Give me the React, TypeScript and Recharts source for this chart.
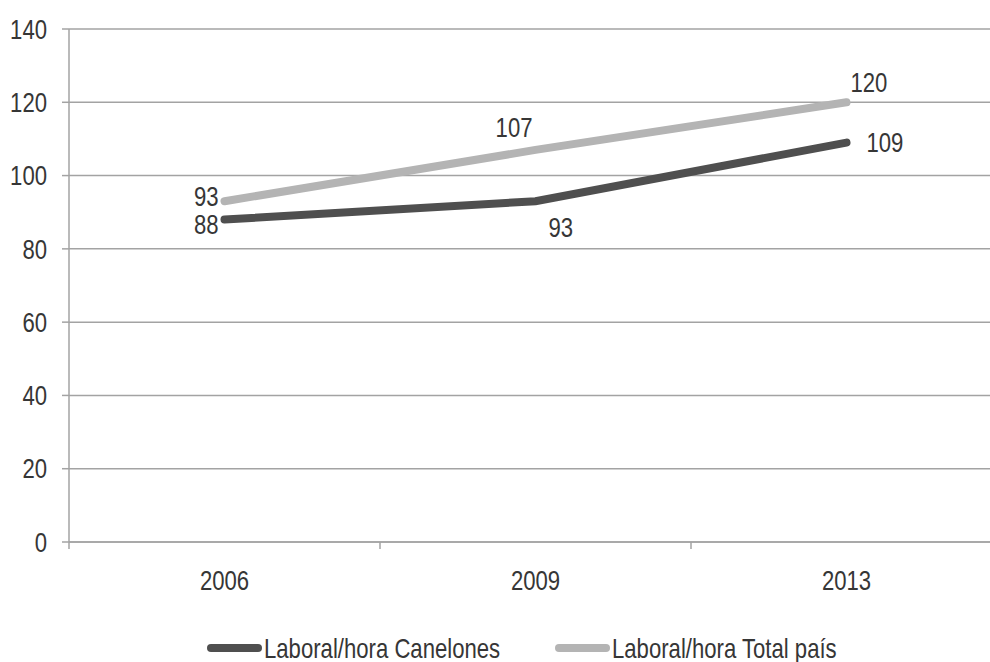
import * as React from 'react';
import { LineChart, Line, XAxis, YAxis, CartesianGrid, Legend, LabelList } from 'recharts';

const years = ['2006', '2009', '2013'];
const canelones = [88, 93, 109];
const totalPais = [93, 107, 120];
const yTicks = [0, 20, 40, 60, 80, 100, 120, 140];

const data = years.map((year, i) => ({ year, canelones: canelones[i], total: totalPais[i] }));

const FONT = '"Liberation Sans", Arial, sans-serif';
const TEXT = '#363636';
const DARK = '#4f4f4f';
const LIGHT = '#b4b4b4';
const GRID = '#a3a3a3';

const CHART_W = 1002;
const CHART_H = 662;
const BAND = 311;
const NARROW = 0.82;

// label offsets relative to each point: [dx, dy, anchor]
const canelonesLabelPos: [number, number, string][] = [[-6, 5, 'end'], [13, 26, 'start'], [20, 0, 'start']];
const totalLabelPos: [number, number, string][] = [[-6, -5, 'end'], [-3, -23, 'end'], [4, -20, 'start']];

// condensed text: regular face squeezed horizontally
const SText = ({ x, y, anchor = 'start', dy, children }: any) => (
  <text
    transform={`translate(${x} ${y}) scale(${NARROW} 1)`}
    dy={dy}
    textAnchor={anchor}
    fontFamily={FONT}
    fontSize={27}
    fill={TEXT}
  >
    {children}
  </text>
);

const makeLabel = (pos: [number, number, string][]) => (props: any) => {
  const { x, y, value, index } = props;
  const [dx, dy, anchor] = pos[index];
  return (
    <SText x={x + dx} y={y + dy} dy="0.36em" anchor={anchor}>
      {value}
    </SText>
  );
};

const XTick = (props: any) => {
  const { x, y, payload, index } = props;
  const axisY = y - 9;
  return (
    <g>
      <line x1={x - BAND / 2} y1={axisY} x2={x - BAND / 2} y2={axisY + 7} stroke={GRID} strokeWidth={1.5} />
      {index === years.length - 1 && (
        <line x1={x + BAND / 2} y1={axisY} x2={x + BAND / 2} y2={axisY + 7} stroke={GRID} strokeWidth={1.5} />
      )}
      <SText x={x} y={axisY + 48} anchor="middle">
        {payload.value}
      </SText>
    </g>
  );
};

const YTick = (props: any) => {
  const { x, y, payload } = props;
  return (
    <SText x={x} y={y} dy="0.36em" anchor="end">
      {payload.value}
    </SText>
  );
};

const legendItems = [
  { name: 'Laboral/hora Canelones', color: DARK, x: 207 },
  { name: 'Laboral/hora Total país', color: LIGHT, x: 555 },
];

const LegendContent = () => (
  <svg width={CHART_W} height={50} style={{ display: 'block' }}>
    {legendItems.map((item) => (
      <g key={item.name}>
        <line x1={item.x + 4} y1={36} x2={item.x + 51} y2={36} stroke={item.color} strokeWidth={8} strokeLinecap="round" />
        <SText x={item.x + 57} y={46}>
          {item.name}
        </SText>
      </g>
    ))}
  </svg>
);

export default function App() {
  return (
    <div style={{ position: 'fixed', left: 0, top: 0, width: 990, height: 662, overflow: 'hidden', background: '#fff' }}>
      <LineChart width={CHART_W} height={CHART_H} data={data} margin={{ top: 29, right: 0, bottom: 0, left: 0 }}>
        <CartesianGrid vertical={false} stroke={GRID} strokeWidth={1.5} />
        <XAxis
          dataKey="year"
          height={70}
          padding={{ left: BAND / 2, right: BAND / 2 }}
          axisLine={{ stroke: GRID, strokeWidth: 1.5 }}
          tickLine={false}
          tickSize={7}
          tickMargin={2}
          tick={<XTick />}
          interval={0}
        />
        <YAxis
          width={69}
          domain={[0, 140]}
          ticks={yTicks}
          interval={0}
          axisLine={{ stroke: GRID, strokeWidth: 1.5 }}
          tickLine={{ stroke: GRID, strokeWidth: 1.5 }}
          tickSize={7}
          tickMargin={15}
          tick={<YTick />}
        />
        <Legend verticalAlign="bottom" height={50} content={<LegendContent />} />
        <Line
          dataKey="canelones"
          name="Laboral/hora Canelones"
          stroke={DARK}
          strokeWidth={8}
          strokeLinecap="round"
          dot={false}
          activeDot={false}
          isAnimationActive={false}
        >
          <LabelList dataKey="canelones" content={makeLabel(canelonesLabelPos)} />
        </Line>
        <Line
          dataKey="total"
          name="Laboral/hora Total país"
          stroke={LIGHT}
          strokeWidth={8}
          strokeLinecap="round"
          dot={false}
          activeDot={false}
          isAnimationActive={false}
        >
          <LabelList dataKey="total" content={makeLabel(totalLabelPos)} />
        </Line>
      </LineChart>
    </div>
  );
}
